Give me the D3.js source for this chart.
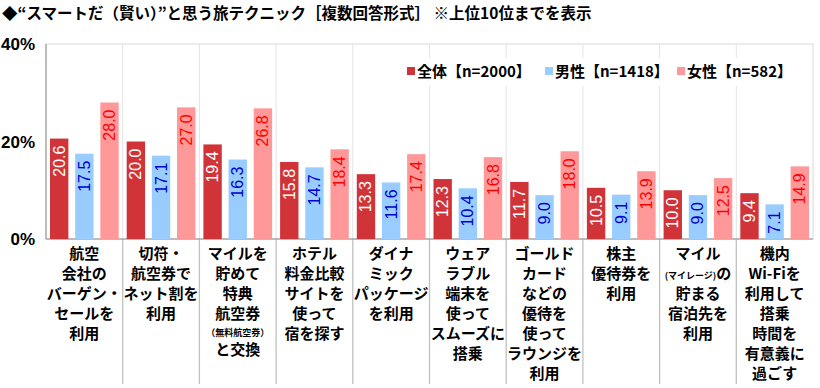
<!DOCTYPE html>
<html>
<head>
<meta charset="utf-8">
<script src="https://cdn.jsdelivr.net/npm/d3@7"></script>
<style>
  body { margin: 0; background: white; }
  text { font-family: "Noto Sans CJK JP", "Liberation Sans", sans-serif; }
</style>
</head>
<body>
<div id="chart"></div>
<script>
// Data
const categories = ["c1", "c2", "c3", "c4", "c5", "c6", "c7", "c8", "c9", "c10"];
// category labels, one entry per line; {...} marks small text
const categoryLines = [
    ["航空", "会社の", "バーゲン・", "セールを", "利用"],
    ["切符・", "航空券で", "ネット割を", "利用"],
    ["マイルを", "貯めて", "特典", "航空券", "{（無料航空券）}", "と交換"],
    ["ホテル", "料金比較", "サイトを", "使って", "宿を探す"],
    ["ダイナ", "ミック", "パッケージ", "を利用"],
    ["ウェア", "ラブル", "端末を", "使って", "スムーズに", "搭乗"],
    ["ゴールド", "カード", "などの", "優待を", "使って", "ラウンジを", "利用"],
    ["株主", "優待券を", "利用"],
    ["マイル", "{(マイレージ)}の", "貯まる", "宿泊先を", "利用"],
    ["機内", "Wi-Fiを", "利用して", "搭乗", "時間を", "有意義に", "過ごす"]
];
const seriesNames = ["全体【n=2000】", "男性【n=1418】", "女性【n=582】"];
const total = [20.6, 20.0, 19.4, 15.8, 13.3, 12.3, 11.7, 10.5, 10.0, 9.4];
const male = [17.5, 17.1, 16.3, 14.7, 11.6, 10.4, 9.0, 9.1, 9.0, 7.1];
const female = [28.0, 27.0, 26.8, 18.4, 17.4, 16.8, 18.0, 13.9, 12.5, 14.9];
const yTicks = [0, 20, 40];

const seriesValues = [total, male, female];
const barColors = ["#d13438", "#99ccff", "#ff9999"];
const labelColors = ["#ffffff", "#0000cc", "#ff0000"];

let width = 820, height = 388;
let margin = { top: 44, bottom: 149, left: 46, right: 7 };

let svg = d3.select("#chart")
    .append("svg")
    .attr("width", width)
    .attr("height", height)
    .style("background", "white");

// Title
svg.append("text")
    .attr("x", 2)
    .attr("y", 19)
    .style("font-size", "15.5px")
    .style("font-weight", "bold")
    .text("◆“スマートだ（賢い）”と思う旅テクニック［複数回答形式］ ※上位10位までを表示");

// Scales
let x0 = d3.scaleBand()
    .domain(categories)
    .range([margin.left, width - margin.right]);

let x1 = d3.scaleBand()
    .domain(d3.range(3))
    .range([4, x0.bandwidth() - 4])
    .paddingInner(0.27);

let y = d3.scaleLinear()
    .domain([0, 40])
    .range([height - margin.bottom, margin.top]);

// Frame and vertical gridlines
svg.append("rect")
    .attr("x", margin.left)
    .attr("y", margin.top)
    .attr("width", width - margin.left - margin.right)
    .attr("height", y(0) - margin.top)
    .attr("fill", "none")
    .attr("stroke", "#d9d9d9");

categories.slice(1).forEach(c => {
    svg.append("line")
        .attr("x1", x0(c)).attr("x2", x0(c))
        .attr("y1", margin.top).attr("y2", y(0))
        .attr("stroke", "#e3e3e3");
    // separators between category labels
    svg.append("line")
        .attr("x1", x0(c)).attr("x2", x0(c))
        .attr("y1", y(0)).attr("y2", height - 4)
        .attr("stroke", "#c0c0c0")
        .attr("stroke-width", 1.3);
});

// Axes lines
svg.append("line")
    .attr("x1", margin.left).attr("x2", margin.left)
    .attr("y1", margin.top).attr("y2", y(0))
    .attr("stroke", "#8c8c8c");
svg.append("line")
    .attr("x1", margin.left).attr("x2", width - margin.right)
    .attr("y1", y(0)).attr("y2", y(0))
    .attr("stroke", "#8c8c8c");

// Y tick labels
yTicks.forEach(t => {
    svg.append("text")
        .attr("x", 35)
        .attr("y", y(t) + 6)
        .attr("text-anchor", "end")
        .style("font-family", "'Liberation Sans', Arial, sans-serif")
        .style("font-size", "17px")
        .style("font-weight", "bold")
        .text(t + "%");
});

// Bars
let groups = svg.selectAll(".grp")
    .data(categories)
    .enter()
    .append("g")
    .attr("class", "grp")
    .attr("transform", d => `translate(${x0(d)},0)`);

seriesValues.forEach((vals, s) => {
    groups.append("rect")
        .attr("x", x1(s))
        .attr("y", (d, i) => y(vals[i]))
        .attr("width", x1.bandwidth())
        .attr("height", (d, i) => y(0) - y(vals[i]))
        .attr("fill", barColors[s]);

    groups.append("text")
        .attr("transform", (d, i) =>
            `translate(${x1(s) + x1.bandwidth() / 2 + 5.5},${y(vals[i]) + 7}) rotate(-90)`)
        .attr("text-anchor", "end")
        .style("font-family", "'Liberation Sans', Arial, sans-serif")
        .style("font-size", "16px")
        .attr("fill", labelColors[s])
        .text((d, i) => vals[i].toFixed(1));
});

// Legend
let legend = svg.append("g");
legend.append("rect")
    .attr("x", 402).attr("y", 58)
    .attr("width", 394).attr("height", 28)
    .attr("fill", "white");
const legendX = [407, 545, 677];
seriesNames.forEach((name, s) => {
    legend.append("rect")
        .attr("x", legendX[s]).attr("y", 67)
        .attr("width", 8).attr("height", 8)
        .attr("fill", barColors[s]);
    legend.append("text")
        .attr("x", legendX[s] + 10)
        .attr("y", 77)
        .style("font-size", "15px")
        .style("font-weight", "bold")
        .text(name);
});

// Category labels
categoryLines.forEach((lines, i) => {
    let cx = x0(categories[i]) + x0.bandwidth() / 2;
    let yy = 259;
    lines.forEach(line => {
        let smallOnly = /^\{[^}]*\}$/.test(line);
        if (smallOnly) yy -= 3;
        let t = svg.append("text")
            .attr("x", cx)
            .attr("y", yy)
            .attr("text-anchor", "middle")
            .style("font-size", "15px")
            .style("font-weight", "bold");
        line.split(/(\{[^}]*\})/).filter(p => p.length).forEach(p => {
            if (p.startsWith("{")) {
                t.append("tspan")
                    .style("font-size", "9px")
                    .text(p.slice(1, -1));
            } else {
                t.append("tspan").text(p);
            }
        });
        yy += smallOnly ? 19 : 20;
    });
});
</script>
</body>
</html>
